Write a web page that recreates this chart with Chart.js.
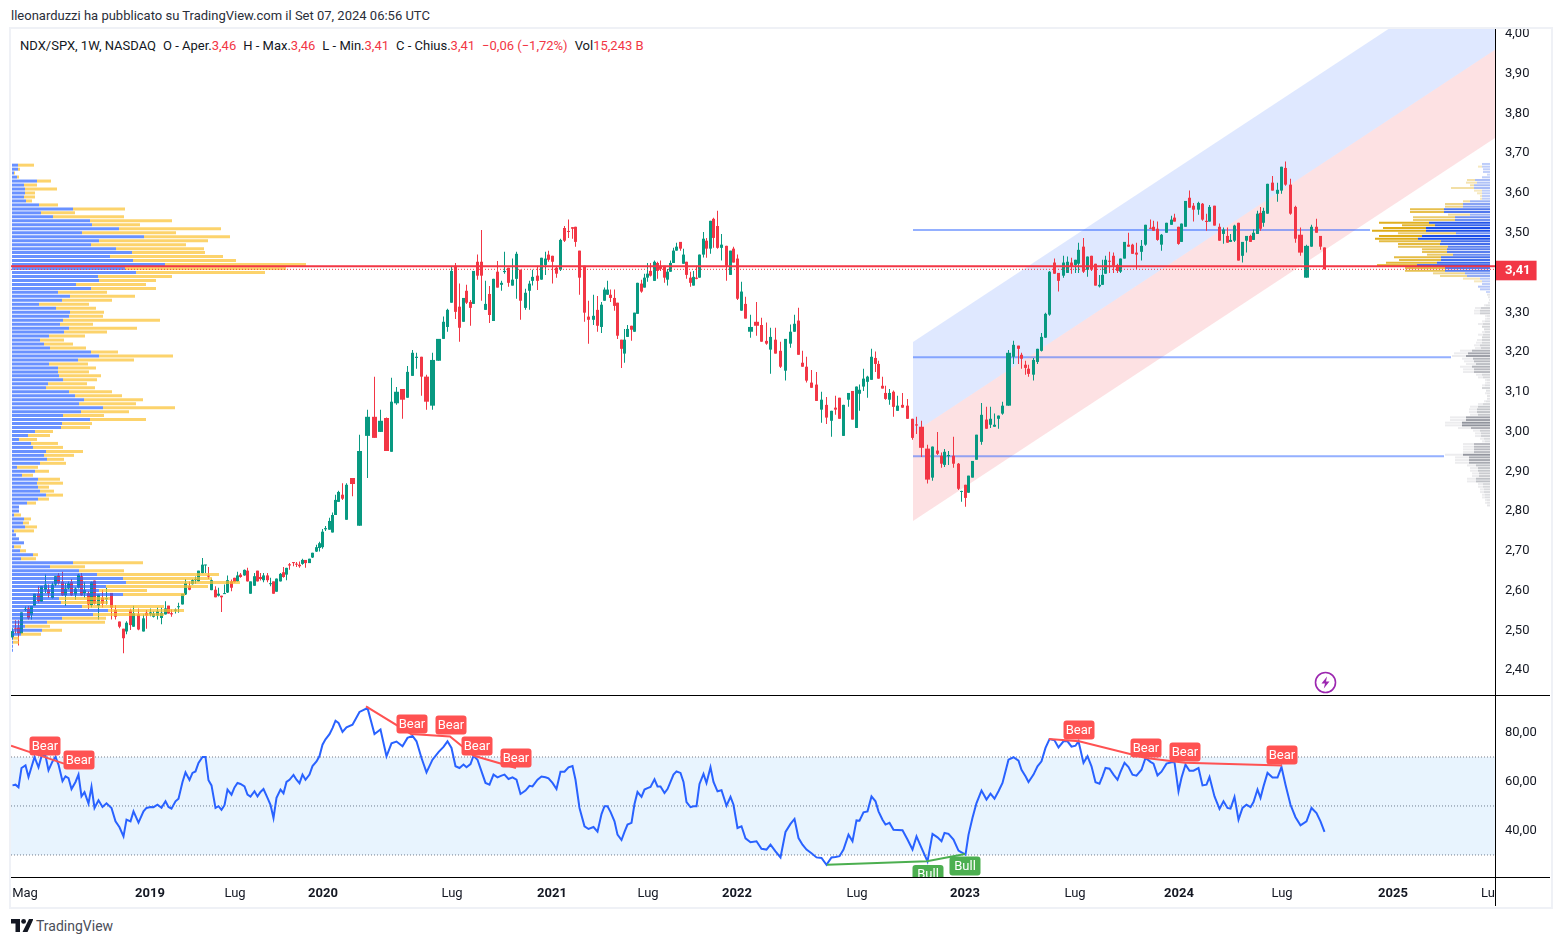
<!DOCTYPE html>
<html>
<head>
<meta charset="utf-8">
<title>NDX/SPX</title>
<script src="https://cdn.jsdelivr.net/npm/chart.js@4"></script>
<style>
  html, body { margin: 0; padding: 0; background: #fff; width: 1561px; height: 944px; overflow: hidden; }
  body { position: relative; font-family: Roboto, "Liberation Sans", sans-serif; color: #131722; }
  canvas { position: absolute; }
  #frame { position: absolute; left: 9px; top: 27px; width: 1540px; height: 878px; border: 2px solid #eff1f6; }
  #published { position: absolute; left: 11px; top: 9px; font-size: 13px; line-height: 14px; color: #2a2e39; white-space: nowrap; }
  #legend { position: absolute; left: 20px; top: 38px; font-size: 13px; line-height: 15px; white-space: nowrap; }
  #legend b { font-weight: 400; color: #f23645; }
  #legend span { margin-left: 7px; }
  .rule { position: absolute; background: #000; }
  #bolt { position: absolute; left: 1314px; top: 671px; }
  #logo { position: absolute; left: 11px; top: 919px; }
  #logoText { position: absolute; left: 36px; top: 918px; font-size: 14px; line-height: 16px; color: #4a4e59; }
</style>
</head>
<body>
<div id="frame"></div>
<div id="published">lleonarduzzi ha pubblicato su TradingView.com il Set 07, 2024 06:56 UTC</div>
<div id="legend">NDX/SPX, 1W, NASDAQ<span>O - Aper.<b>3,46</b></span><span>H - Max.<b>3,46</b></span><span>L - Min.<b>3,41</b></span><span>C - Chius.<b>3,41</b></span><span><b>−0,06 (−1,72%)</b></span><span>Vol<b>15,243 B</b></span></div>

<canvas id="priceChart" width="1539" height="666" style="left:11px;top:29px"></canvas>
<canvas id="rsiChart" width="1539" height="210" style="left:11px;top:696px"></canvas>

<div class="rule" style="left:11px;top:695px;width:1539px;height:1px"></div>
<div class="rule" style="left:11px;top:877px;width:1539px;height:1px"></div>
<div class="rule" style="left:1495px;top:29px;width:1px;height:877px"></div>

<svg id="bolt" width="23" height="23" viewBox="0 0 23 23">
  <circle cx="11.5" cy="11.5" r="10" fill="#fff" stroke="#9c27b0" stroke-width="1.6"/>
  <path d="M13 5.5 L7.5 12.5 H11 L9.8 17.5 L15.5 10.5 H12 Z" fill="#9c27b0"/>
</svg>
<svg id="logo" width="22" height="13" viewBox="0 0 22 13">
  <path d="M0 0H9V13H4.5V4.5H0Z M18 0H22.5L16.5 13H11.5Z" fill="#131722"/>
  <circle cx="12.6" cy="2.4" r="2.4" fill="#131722"/>
</svg>
<div id="logoText">TradingView</div>

<script>
// Bar widths follow volume (volume candles)
const vols = [
  3,3,3,4,3,3,3,4,3,4,3,4,3,3,4,3,3,3,4,3,3,3,4,3,3,4,4,4,5,4,4,4,3,4,3,5,5,3,4,3,4,4,4,3,3,4,3,4,3,4,3,3,3,4,3,3,3,4,3,3,3,3,4,3,3,3,4,3,3,4,3,3,3,4,3,3,3,4,3,3,3,4,3,3,3,3,4,3,4,3,3,
  3,4,3,3,3,4,4,6,7,8,7,6,6,5,5,6,5,5,4,5,5,6,6,5,4,4,4,4,4,3,4,3,4,4,4,4,4,4,4,3,4,4,4,4,5,4,3,5,4,4,3,4,4,4,4,4,4,3,4,5,4,5,4,4,3,3,3,4,3,4,3,3,
  4,3,3,4,3,3,3,4,3,3,4,3,3,3,3,4,3,3,4,3,3,3,4,3,4,3,4,4,5,4,3,4,4,4,5,6,5,5,4,5,5,5,5,4,4,4,4,5,5,5,5,5,4,4,4,5,4,4,3,4,4,4,4,3,4,3,4,4,4,5,5,5,4,5,6,5,5,
  4,3,4,5,5,3,4,3,4,4,5,5,4,4,4,4,6,5,5,3,4,3,5,4,4,4,4,5,4,5,4,4,4,3,5,4,4,4,4,3,3,4,4,4,
  3,4,4,4,4,5,4,5,3,4,4,5,5,3,4,3,4,4,4,5,4,4,3,5,5,4,4,3,4,4,4,4,4,3,4,3,3,4,5,5,4,4,5,5,5,6,5,5,4,4,3
];

// [open, high, low, close]
const candles2018 = [
  [2.477,2.5,2.472,2.493],[2.5,2.52,2.487,2.497],[2.502,2.52,2.457,2.487],[2.487,2.54,2.487,2.54],[2.546,2.555,2.543,2.549],
  [2.55,2.556,2.522,2.525],[2.534,2.556,2.522,2.556],[2.557,2.587,2.557,2.587],[2.587,2.606,2.564,2.568],[2.567,2.606,2.567,2.606],
  [2.597,2.635,2.589,2.61],[2.597,2.61,2.577,2.587],[2.576,2.615,2.575,2.61],[2.61,2.631,2.606,2.631],[2.633,2.639,2.61,2.614],
  [2.617,2.642,2.581,2.583],[2.583,2.614,2.556,2.6],[2.6,2.618,2.598,2.613],[2.616,2.624,2.581,2.583],[2.585,2.603,2.572,2.6],
  [2.602,2.637,2.6,2.635],[2.631,2.639,2.581,2.583],[2.588,2.616,2.577,2.596],[2.589,2.593,2.548,2.56],[2.558,2.618,2.552,2.616],
  [2.62,2.62,2.56,2.562],[2.556,2.585,2.522,2.585],[2.577,2.597,2.552,2.562],[2.573,2.602,2.56,2.576],[2.589,2.589,2.522,2.552],
  [2.546,2.558,2.522,2.529],[2.517,2.517,2.5,2.504],[2.499,2.499,2.437,2.475]
];
const candles2019 = [
  [2.492,2.518,2.485,2.514],[2.545,2.549,2.496,2.508],[2.504,2.557,2.504,2.538],[2.535,2.55,2.495,2.497],[2.492,2.535,2.492,2.525],
  [2.539,2.546,2.499,2.532],[2.535,2.55,2.53,2.54],[2.529,2.543,2.527,2.537],[2.532,2.552,2.522,2.543],[2.526,2.552,2.51,2.539],
  [2.535,2.568,2.535,2.55],[2.557,2.557,2.537,2.537],[2.538,2.547,2.529,2.535],[2.544,2.55,2.537,2.547],[2.553,2.564,2.539,2.555],
  [2.56,2.587,2.56,2.587],[2.585,2.624,2.584,2.614],[2.606,2.618,2.596,2.597],[2.611,2.624,2.61,2.621],[2.621,2.63,2.612,2.624],
  [2.618,2.645,2.617,2.645],[2.639,2.677,2.638,2.66],[2.658,2.66,2.639,2.659],[2.633,2.654,2.624,2.63],[2.596,2.625,2.596,2.621],
  [2.597,2.606,2.578,2.578],[2.582,2.602,2.58,2.587],[2.582,2.582,2.541,2.578],[2.586,2.61,2.586,2.588],[2.59,2.633,2.589,2.621],
  [2.618,2.623,2.593,2.602],[2.627,2.627,2.615,2.616],[2.618,2.642,2.617,2.633],[2.635,2.639,2.627,2.629],[2.633,2.648,2.632,2.647],
  [2.645,2.652,2.618,2.618],[2.587,2.618,2.587,2.618],[2.607,2.639,2.607,2.631],[2.645,2.645,2.618,2.618],[2.629,2.639,2.62,2.624],
  [2.621,2.639,2.616,2.633],[2.633,2.639,2.616,2.621],[2.611,2.627,2.606,2.613],[2.618,2.618,2.587,2.587],[2.592,2.625,2.592,2.625],
  [2.618,2.639,2.618,2.637],[2.641,2.654,2.627,2.629],[2.635,2.652,2.621,2.652],[2.661,2.664,2.647,2.658],[2.666,2.667,2.656,2.664],
  [2.662,2.667,2.654,2.66],[2.66,2.668,2.652,2.656],[2.662,2.675,2.66,2.672],[2.672,2.672,2.652,2.664],[2.664,2.675,2.664,2.675],
  [2.678,2.69,2.677,2.69],[2.693,2.71,2.692,2.704],[2.702,2.718,2.693,2.714],[2.704,2.75,2.7,2.743]
];
const candles2020 = [
  [2.749,2.757,2.745,2.752],[2.748,2.778,2.748,2.77],[2.741,2.791,2.741,2.785],[2.785,2.836,2.785,2.823],[2.818,2.846,2.818,2.843],
  [2.836,2.865,2.823,2.826],[2.773,2.865,2.773,2.861],[2.878,2.878,2.832,2.863],[2.758,2.987,2.758,2.946],[2.984,3.05,2.878,3.032],
  [3.032,3.133,2.979,2.979],[2.994,3.05,2.994,3.022],[3.029,3.03,2.946,2.946],[2.944,3.13,2.944,3.07],[3.066,3.107,3.062,3.095],
  [3.102,3.102,3.027,3.075],[3.08,3.16,3.08,3.145],[3.135,3.2,3.135,3.193],[3.18,3.193,3.153,3.183],[3.183,3.183,3.085,3.133],
  [3.133,3.138,3.05,3.07],[3.06,3.193,3.05,3.175],[3.173,3.228,3.173,3.228],[3.228,3.284,3.228,3.271],[3.258,3.304,3.246,3.301],
  [3.319,3.41,3.319,3.399],[3.412,3.419,3.278,3.296],[3.309,3.367,3.221,3.256],[3.271,3.331,3.271,3.331],[3.349,3.364,3.316,3.319],
  [3.321,3.326,3.261,3.306],[3.316,3.399,3.316,3.399],[3.422,3.44,3.377,3.387],[3.422,3.502,3.324,3.387],[3.301,3.374,3.301,3.316],
  [3.341,3.361,3.268,3.288],[3.273,3.379,3.273,3.379],[3.397,3.424,3.357,3.357],[3.364,3.374,3.349,3.369],[3.396,3.447,3.392,3.399],
  [3.407,3.407,3.359,3.369],[3.362,3.43,3.362,3.377],[3.379,3.447,3.329,3.442],[3.402,3.402,3.276,3.324],[3.306,3.354,3.301,3.344],
  [3.349,3.374,3.301,3.367],[3.374,3.402,3.362,3.384],[3.387,3.412,3.351,3.374],[3.377,3.432,3.377,3.432],[3.414,3.447,3.389,3.43],
  [3.44,3.45,3.422,3.427],[3.437,3.437,3.367,3.422],[3.407,3.412,3.382,3.392],[3.402,3.48,3.399,3.477],[3.507,3.512,3.472,3.475],
  [3.499,3.528,3.482,3.497],[3.509,3.509,3.48,3.505],[3.51,3.51,3.46,3.472],[3.45,3.45,3.339,3.382],[3.412,3.412,3.271,3.294],
  [3.284,3.324,3.216,3.276],[3.276,3.339,3.263,3.286],[3.301,3.336,3.246,3.261],[3.258,3.321,3.243,3.314],[3.324,3.357,3.324,3.352],
  [3.339,3.374,3.339,3.352],[3.339,3.352,3.321,3.331],[3.331,3.352,3.299,3.311],[3.319,3.319,3.228,3.236],[3.226,3.226,3.155,3.203],
  [3.191,3.253,3.168,3.226],[3.233,3.263,3.233,3.253]
];
const candles2021 = [
  [3.261,3.261,3.223,3.251],[3.246,3.294,3.246,3.294],[3.291,3.369,3.291,3.369],[3.367,3.377,3.344,3.347],[3.357,3.392,3.357,3.382],
  [3.382,3.419,3.372,3.392],[3.399,3.419,3.385,3.387],[3.374,3.425,3.374,3.422],[3.419,3.422,3.379,3.399],[3.412,3.425,3.399,3.404],
  [3.412,3.412,3.369,3.382],[3.377,3.404,3.362,3.397],[3.397,3.425,3.397,3.419],[3.419,3.457,3.419,3.45],[3.45,3.47,3.45,3.46],
  [3.472,3.472,3.45,3.455],[3.417,3.455,3.417,3.44],[3.422,3.422,3.379,3.389],[3.382,3.397,3.359,3.369],[3.362,3.399,3.362,3.384],
  [3.382,3.412,3.378,3.379],[3.382,3.44,3.382,3.44],[3.44,3.497,3.433,3.48],[3.475,3.482,3.432,3.455],[3.455,3.525,3.442,3.525],
  [3.53,3.533,3.457,3.482],[3.512,3.55,3.455,3.457],[3.457,3.492,3.425,3.465],[3.462,3.462,3.374,3.412],[3.389,3.45,3.389,3.45],
  [3.455,3.46,3.42,3.42],[3.43,3.44,3.326,3.329],[3.299,3.372,3.299,3.347],[3.316,3.334,3.279,3.279]
];
const candles2022 = [
  [3.246,3.289,3.231,3.258],[3.271,3.321,3.236,3.261],[3.263,3.281,3.221,3.221],[3.223,3.269,3.213,3.216],[3.201,3.256,3.14,3.233],
  [3.226,3.256,3.191,3.191],[3.198,3.221,3.155,3.158],[3.148,3.228,3.123,3.228],[3.216,3.264,3.206,3.246],[3.246,3.289,3.246,3.266],
  [3.274,3.306,3.188,3.188],[3.168,3.198,3.158,3.158],[3.158,3.183,3.118,3.123],[3.118,3.15,3.105,3.105],[3.113,3.145,3.072,3.072],
  [3.05,3.095,3.017,3.075],[3.062,3.082,3.014,3.03],[3.022,3.047,2.982,3.047],[3.055,3.085,3.037,3.05],[3.08,3.08,3.027,3.027],
  [2.984,3.062,2.984,3.062],[3.075,3.092,3.057,3.092],[3.097,3.097,3.025,3.025],[3.004,3.108,3.004,3.108],[3.09,3.113,3.047,3.1],
  [3.108,3.153,3.097,3.128],[3.12,3.135,3.08,3.133],[3.125,3.203,3.125,3.183],[3.18,3.196,3.145,3.165],[3.165,3.173,3.128,3.128],
  [3.11,3.133,3.103,3.103],[3.092,3.11,3.075,3.077],[3.075,3.102,3.062,3.092],[3.095,3.098,3.032,3.057],[3.047,3.085,3.047,3.06],
  [3.062,3.092,3.055,3.055],[3.06,3.077,3.027,3.027],[3.027,3.027,2.974,2.979],[3.013,3.032,2.989,3.01],[3.007,3.022,2.931,2.954],
  [2.952,2.962,2.864,2.874],[2.879,2.957,2.871,2.957],[2.947,2.994,2.936,2.939]
];
const candles2023 = [
  [2.934,2.942,2.904,2.914],[2.911,2.951,2.906,2.944],[2.933,2.946,2.911,2.936],[2.934,2.982,2.904,2.914],[2.914,2.916,2.848,2.851],
  [2.843,2.846,2.818,2.845],[2.861,2.861,2.806,2.828],[2.841,2.884,2.841,2.884],[2.879,2.921,2.879,2.921],[2.924,2.987,2.924,2.987],
  [2.969,3.067,2.962,3.037],[3.025,3.057,3.002,3.002],[3.012,3.057,3.004,3.027],[3.007,3.04,3.007,3.012],[3.027,3.035,3.002,3.035],
  [3.04,3.07,3.037,3.06],[3.06,3.2,3.06,3.193],[3.183,3.223,3.165,3.213],[3.211,3.211,3.165,3.203],[3.188,3.193,3.153,3.178],
  [3.163,3.173,3.138,3.155],[3.153,3.163,3.133,3.14],[3.138,3.18,3.123,3.175],[3.17,3.203,3.165,3.203],[3.198,3.243,3.196,3.233],
  [3.231,3.294,3.231,3.291],[3.289,3.399,3.286,3.397],[3.42,3.43,3.392,3.392],[3.394,3.394,3.347,3.374],[3.387,3.437,3.382,3.42],
  [3.394,3.435,3.394,3.422],[3.42,3.432,3.392,3.409],[3.414,3.427,3.394,3.427],[3.417,3.47,3.394,3.452],[3.46,3.482,3.394,3.397],
  [3.402,3.435,3.384,3.435],[3.437,3.437,3.399,3.402],[3.417,3.417,3.362,3.362],[3.36,3.389,3.357,3.364],[3.364,3.427,3.364,3.389],
  [3.392,3.437,3.392,3.427],[3.424,3.447,3.394,3.422],[3.437,3.445,3.394,3.412],[3.414,3.417,3.394,3.399]
];
const candles2024 = [
  [3.397,3.43,3.394,3.43],[3.43,3.472,3.43,3.472],[3.465,3.495,3.46,3.46],[3.465,3.467,3.442,3.442],[3.445,3.47,3.404,3.44],
  [3.447,3.477,3.425,3.462],[3.465,3.515,3.462,3.515],[3.507,3.528,3.505,3.505],[3.51,3.525,3.5,3.5],[3.505,3.523,3.475,3.477],
  [3.465,3.492,3.45,3.49],[3.495,3.52,3.495,3.52],[3.515,3.538,3.515,3.528],[3.533,3.543,3.523,3.523],[3.51,3.51,3.465,3.467],
  [3.472,3.518,3.472,3.518],[3.51,3.575,3.51,3.575],[3.583,3.601,3.558,3.558],[3.563,3.57,3.523,3.553],[3.553,3.573,3.54,3.57],
  [3.568,3.57,3.525,3.528],[3.525,3.543,3.5,3.522],[3.523,3.565,3.523,3.56],[3.563,3.563,3.513,3.513],[3.51,3.518,3.475,3.475],
  [3.492,3.508,3.467,3.503],[3.487,3.508,3.47,3.47],[3.472,3.492,3.472,3.477],[3.475,3.515,3.472,3.513],[3.52,3.52,3.425,3.425],
  [3.437,3.472,3.42,3.472],[3.475,3.487,3.445,3.487],[3.487,3.49,3.472,3.472],[3.477,3.503,3.477,3.495],[3.492,3.55,3.492,3.543],
  [3.545,3.56,3.5,3.505],[3.52,3.558,3.51,3.55],[3.543,3.618,3.543,3.618],[3.621,3.638,3.601,3.601],[3.593,3.621,3.573,3.603],
  [3.601,3.661,3.593,3.661],[3.658,3.674,3.613,3.616],[3.616,3.631,3.54,3.543],[3.56,3.563,3.47,3.48],[3.49,3.508,3.437,3.445],
  [3.382,3.465,3.382,3.462],[3.46,3.515,3.46,3.51],[3.51,3.53,3.495,3.495],[3.487,3.487,3.452,3.46],[3.458,3.458,3.403,3.403]
];

// RSI, one value per candle
const rsiValues = [
  58.4,58.7,57.6,65.5,66.6,61.8,65.9,70,65.8,70.3,70.5,64.6,68.2,70,66.9,60.1,62.1,61.4,56.9,59.8,62.8,53.9,55.6,51,57.8,49.2,52.3,49.6,51.1,49.2,
  43.7,41.3,37.6,44.4,43.7,47.8,43.2,47.8,49.2,49.6,49.5,50.5,49.3,51.9,49.6,48.9,51.9,53,59.8,63.7,60.6,63.5,64.1,67.6,70,70,60.5,58.4,49.2,49.9,
  48.4,50.3,56.7,54.6,57.6,59.4,59,58,54.6,53.8,56,53.9,55.7,56.9,53.3,50.5,45.1,53.3,56.7,55.2,59.8,60.7,62.7,60.7,59.3,62.8,60.7,62.8,66.3,68.2,70.4,75,
  77.2,79.3,81.8,84.8,83.9,80.2,82.1,83.2,88.4,90,79.4,81.2,70.3,75.6,76.3,74.4,77.8,78.6,76.4,69.6,63.7,68.9,72,74.1,76.4,73.7,66.2,65.5,66.9,65.8,
  67.1,70.5,68.9,64.1,59.4,58.7,62.8,61.7,62.4,62.8,61,61.7,60.7,54.9,56.3,58.2,58,60.7,
  62,61.7,61.3,59.4,56.9,64,64,65.8,66.3,60.7,49.2,41.7,40.6,41.4,39.5,46.7,49.9,49.9,47.6,43.7,38.3,36.1,39.4,42.4,
  43.1,50.8,55.7,53.7,56.7,57.3,57.8,60.9,58,58,55.3,56.9,59.8,62.8,64.1,63.5,59.8,51.6,49.5,49.9,49.9,59,63.1,59.4,65.8,59.8,56,56.4,50.1,53.7,50.5,41,41.7,36.8,
  35.2,35.6,32.5,32.2,34.2,31.5,29,39.4,42.7,44.7,36.9,34.2,32.2,30.7,29,28.8,26,29,29.2,29.5,32.2,38.3,35.6,44.1,44,47.4,47.8,53.9,51.9,47.8,44.4,42.4,43.1,40.3,40.2,40.1,36.3,32.2,37.6,32.9,27.4,38.6,37.2,
  35.6,39,38.6,36.3,31.8,31.1,30.1,38.2,45.2,
  51.2,56.3,52.6,55,53,56,59.4,68.9,69.9,68.5,64.8,62.1,59.8,62.8,66.2,68.2,73.7,77.3,76.8,73.9,76.4,76.4,74.2,74.6,76.4,67.6,70.3,66.2,59.7,59.1,62.1,65.5,65.2,62.8,60.7,
  63.9,67.6,65.9,62.8,62.4,64.8,69.6,68,67.3,62.5,64,67.3,67.8,67.8,56,61.5,66.9,64.4,64.4,65.5,58.4,58.7,61.8,53.9,48.8,51.9,49.2,48.9,53.7,44.4,49.2,50.5,49.5,51.6,56.7,53.3,58,63.5,61.6,61.6,65.9,58.7,50.5,45.4,42.1,43.7,49.2,47.1,43.7,39.4
];

// Left volume profile, one row per 0.01 of price from the top row down
const vpLeftUp = [
  6,6,2,5,25,12,13,13,12,14,27,61,29,41,78,80,107,70,132,87,79,104,120,98,121,153,113,124,86,87,64,79,46,58,50,27,44,58,57,51,48,57,52,37,28,32,38,79,87,66,
  37,46,46,47,51,36,34,57,63,72,67,91,69,51,78,50,49,23,16,7,19,21,34,32,35,28,5,23,10,26,25,26,28,34,26,15,7,7,2,12,11,13,2,4,7,12,2,8,21,9,
  61,38,67,85,111,114,94,87,111,47,49,70,96,81,50,35,13,30,9,1,1,1,1
];
const vpLeftDown = [
  16,2,1,2,14,13,32,10,11,6,19,52,34,71,82,48,102,94,86,109,95,88,73,113,103,141,161,129,74,57,70,65,49,65,50,50,40,34,34,97,33,68,43,36,24,29,36,27,74,56,
  39,38,31,42,34,39,49,43,47,59,57,72,48,41,56,30,29,18,22,18,27,30,37,30,17,26,21,14,11,22,26,11,14,17,11,9,0,0,7,7,6,12,20,0,0,0,7,6,5,15,
  70,35,45,122,89,114,102,48,62,51,47,82,76,71,44,58,25,20,20,6,6,0,0
];
const vpLeftTop = 3.665;
const vpLeftStep = 0.01;

// Right volume profile (fixed range, colored inside the visible range, grey below it)
const vpRightUp = [
  8,8,7,7,3,8,15,13,16,16,8,8,8,8,20,27,27,46,46,20,35,35,61,55,64,64,34,68,72,49,50,42,43,43,37,49,49,53,73,45,45,25,23,10,8,8,12,10,4,
  3,2,1,2,4,9,10,10,3,3,5,7,8,6,5,7,8,8,8,10,9,18,22,24,17,16,14,18,16,16,8,7,3,3,5,8,4,3,3,3,4,7,12,13,13,12,24,24,28,28,19,10,9,9,6,5,16,16,16,16,27,21,21,21,14,12,12,11,11,14,14,7,7,6,6,5,5,3,3,3
];
const vpRightDown = [
  0,4,0,0,0,0,8,11,4,23,8,5,2,2,7,18,18,34,34,22,42,42,50,33,43,54,58,43,43,62,42,50,25,25,26,47,42,51,40,40,40,32,27,17,8,0,0,0,0,
  0,0,0,0,2,6,6,6,2,2,3,5,0,0,3,5,0,5,6,6,6,12,14,14,11,10,10,12,11,11,6,5,2,2,3,0,0,2,0,0,2,5,8,8,8,8,16,16,17,17,13,7,6,6,4,3,11,11,11,11,18,14,14,14,9,8,8,7,7,9,9,5,5,4,4,3,3,2,2,0
];
const vpRightTop = 3.668;
const vpRightStep = 0.00671;
const vpRightColored = 49;

// Axis ticks
const lastPriceTick = 3.405;
const priceTicks = [2.4,2.5,2.6,2.7,2.8,2.9,3.0,3.1,3.2,3.3,lastPriceTick,3.5,3.6,3.7,3.8,3.9,4.0];
const rsiTicks = [40,60,80];
const timeTickPos = [14,139,224,312,441,541,637,726,846,954,1064,1168,1271,1382,1477];
const timeTickLabels = ["Mag","2019","Lug","2020","Lug","2021","Lug","2022","Lug","2023","Lug","2024","Lug","2025","Lu"];

// Drawn levels and channel, [position on the time axis, price]
const channelUpper = [[902,3.22],[1484,4.184]];
const channelMiddle = [[902,2.991],[1484,3.955]];
const channelLower = [[902,2.77],[1484,3.733]];
const hLevels = [[3.502,902,1359],[3.182,902,1440],[2.933,902,1433]];
const lastPrice = 3.411;
const closePrice = 3.403;

// RSI divergences and their labels
const bearLines = [
  [[0,74.6],[53,67.3]],
  [[355,90.7],[400,79.4],[439,78.4],[463,70.5],[505,65.5]],
  [[1038,77.3],[1068,76.4],[1135,69.6],[1174,67.6],[1271,66.5]]
];
const bullLine = [[816,26],[916,27.4],[954,30.4]];
const bearLabels = [[34,74.5],[68,68.8],[401,83.5],[440,83.1],[466,74.5],[505,69.6],[1068,81],[1135,73.7],[1174,72],[1271,70.8]];
const bullLabels = [[917,22],[954,25.5]];

const upColor = "#089981";
const downColor = "#f23645";
const fontFamily = "Roboto, 'Liberation Sans', sans-serif";

const candles = [...candles2018, ...candles2019, ...candles2020, ...candles2021, ...candles2022, ...candles2023, ...candles2024];

// time axis position of every candle
const xs = [];
vols.forEach((v, i) => xs.push(i === 0 ? 1.5 : xs[i - 1] + vols[i - 1]));

function bodyThickness(i) {
  const prev = i > 0 ? vols[i - 1] : vols[i];
  return prev + vols[i] >= 11 ? 5 : 3;
}

function toPoints(pairs) {
  return pairs.map((p) => ({ x: p[0], y: p[1] }));
}

function lineSet(points, color, width, extra) {
  return Object.assign({
    type: "line",
    data: points,
    borderColor: color,
    borderWidth: width,
    pointRadius: 0,
    fill: false,
    tension: 0,
    order: 1,
  }, extra || {});
}

// candles: wicks and bodies as floating bars
const candleSets = [];
[upColor, downColor].forEach((color) => {
  const isUp = color === upColor;
  const own = candles.map((c, i) => ({ c, i })).filter((d) => (d.c[3] >= d.c[0]) === isUp);
  candleSets.push({
    type: "bar",
    data: own.map((d) => ({ x: xs[d.i], y: [d.c[2], d.c[1]] })),
    backgroundColor: color,
    barThickness: 1,
    grouped: false,
    inflateAmount: 0,
    order: 6,
  });
  [3, 5].forEach((w) => {
    candleSets.push({
      type: "bar",
      data: own.filter((d) => bodyThickness(d.i) === w).map((d) => ({ x: xs[d.i], y: [d.c[0], d.c[3]] })),
      backgroundColor: color,
      barThickness: w,
      minBarLength: 1,
      grouped: false,
      inflateAmount: 0,
      order: 5,
    });
  });
});

// volume profiles as horizontal floating bars on their own hidden axis
function vpSet(data, color, thickness) {
  return {
    type: "bar",
    indexAxis: "y",
    xAxisID: "vp",
    data: data,
    backgroundColor: color,
    barThickness: thickness,
    grouped: false,
    inflateAmount: 0,
    order: 3,
  };
}

const vpLeftBlue = vpLeftUp.map((v, i) => ({ y: vpLeftTop - i * vpLeftStep, x: [0, v] }));
const vpLeftYellow = vpLeftDown.map((v, i) => ({ y: vpLeftTop - i * vpLeftStep, x: [vpLeftUp[i], vpLeftUp[i] + v] }));

const vpRightEdge = 1478;
const vpRightA = vpRightUp.map((v, i) => ({ y: vpRightTop - i * vpRightStep, x: [vpRightEdge - v, vpRightEdge] }));
const vpRightB = vpRightDown.map((v, i) => ({ y: vpRightTop - i * vpRightStep, x: [vpRightEdge - vpRightUp[i] - v, vpRightEdge - vpRightUp[i]] }));

function rightAlpha(i) {
  const a = 0.18 + 0.82 * vpRightUp[i] / 64;
  return Math.min(a, 1);
}

const priceChart = new Chart(document.getElementById("priceChart"), {
  data: {
    datasets: [
      lineSet(toPoints(channelUpper), "rgba(0,0,0,0)", 0, { fill: "+1", backgroundColor: "rgba(41,98,255,0.15)", order: 10 }),
      lineSet(toPoints(channelMiddle), "rgba(0,0,0,0)", 0, { fill: "+1", backgroundColor: "rgba(242,54,69,0.15)", order: 10 }),
      lineSet(toPoints(channelLower), "rgba(0,0,0,0)", 0, { order: 10 }),
      ...hLevels.map((l) => lineSet([{ x: l[1], y: l[0] }, { x: l[2], y: l[0] }], "rgba(41,98,255,0.5)", 2, { order: 8 })),
      ...candleSets,
      vpSet(vpLeftBlue, "rgba(41,98,255,0.7)", 3),
      vpSet(vpLeftYellow, "rgba(251,192,45,0.7)", 3),
      vpSet(vpRightA, (ctx) => ctx.dataIndex < vpRightColored
        ? "rgba(26,78,232," + rightAlpha(ctx.dataIndex) + ")"
        : "rgba(120,123,134," + (0.12 + vpRightUp[ctx.dataIndex] / 40) + ")", 2),
      vpSet(vpRightB, (ctx) => ctx.dataIndex < vpRightColored
        ? "rgba(222,172,24," + rightAlpha(ctx.dataIndex) + ")"
        : "rgba(120,123,134,0.14)", 2),
      lineSet([{ x: 0, y: lastPrice }, { x: 1484, y: lastPrice }], downColor, 2, { order: 1 }),
      lineSet([{ x: 0, y: closePrice }, { x: 1484, y: closePrice }], downColor, 1, { borderDash: [1, 2], order: 1 }),
    ],
  },
  options: {
    responsive: false,
    animation: false,
    layout: { padding: 0 },
    plugins: { legend: { display: false }, tooltip: { enabled: false } },
    scales: {
      x: { type: "linear", display: false, min: 0, max: 1484, offset: false },
      vp: { type: "linear", axis: "x", display: false, min: -1, max: 1483, offset: false },
      y: {
        type: "linear",
        position: "right",
        min: 2.3322,
        max: 4.0075,
        offset: false,
        grid: { display: false, drawTicks: false, offset: false },
        border: { display: false },
        afterBuildTicks: (s) => { s.ticks = priceTicks.map((v) => ({ value: v })); },
        afterFit: (s) => { s.width = 55; s.paddingTop = 0; s.paddingBottom = 0; },
        ticks: {
          padding: 10,
          labelOffset: 2,
          autoSkip: false,
          callback: (v) => (v === lastPriceTick ? "3,41" : v.toFixed(2).replace(".", ",")),
          color: (ctx) => (ctx.tick && ctx.tick.value === lastPriceTick ? "#fff" : "#131722"),
          font: (ctx) => ({ family: fontFamily, size: 13, weight: ctx.tick && ctx.tick.value === lastPriceTick ? "bold" : "normal" }),
          showLabelBackdrop: (ctx) => !!ctx.tick && ctx.tick.value === lastPriceTick,
          backdropColor: downColor,
          backdropPadding: { left: 9, right: 6, top: 2, bottom: 2 },
        },
      },
    },
  },
});

// Bear / Bull boxes on the RSI pane
const divergenceLabels = {
  id: "divergenceLabels",
  afterDatasetsDraw(chart) {
    const { ctx, scales, chartArea } = chart;
    const draw = (pos, text, color) => {
      const px = scales.x.getPixelForValue(pos[0]);
      const py = scales.y.getPixelForValue(pos[1]);
      ctx.fillStyle = color;
      ctx.beginPath();
      ctx.roundRect(px - 15.5, py - 9.5, 31, 19, 3);
      ctx.fill();
      ctx.fillStyle = "#fff";
      ctx.font = "13px " + fontFamily;
      ctx.textAlign = "center";
      ctx.textBaseline = "middle";
      ctx.fillText(text, px, py + 0.5);
    };
    ctx.save();
    ctx.beginPath();
    ctx.rect(chartArea.left, chartArea.top, chartArea.width, chartArea.height);
    ctx.clip();
    bearLabels.forEach((p) => draw(p, "Bear", "#ff5252"));
    bullLabels.forEach((p) => draw(p, "Bull", "#4caf50"));
    ctx.restore();
  },
};

const rsiChart = new Chart(document.getElementById("rsiChart"), {
  data: {
    datasets: [
      lineSet(toPoints([[0,70],[1484,70]]), "#787b86", 1, { borderDash: [1, 2], fill: "+2", backgroundColor: "rgba(33,150,243,0.1)", order: 9 }),
      lineSet(toPoints([[0,50],[1484,50]]), "#787b86", 1, { borderDash: [1, 2], order: 9 }),
      lineSet(toPoints([[0,30],[1484,30]]), "#787b86", 1, { borderDash: [1, 2], order: 9 }),
      lineSet(rsiValues.map((v, i) => ({ x: xs[i], y: v })), "#2962ff", 2, { order: 3 }),
      ...bearLines.map((l) => lineSet(toPoints(l), "#ff5252", 2, { order: 2 })),
      lineSet(toPoints(bullLine), "#4caf50", 2, { order: 2 }),
    ],
  },
  options: {
    responsive: false,
    animation: false,
    layout: { padding: 0 },
    plugins: { legend: { display: false }, tooltip: { enabled: false } },
    scales: {
      x: {
        type: "linear",
        min: 0,
        max: 1484,
        grid: { display: false, drawTicks: false },
        border: { display: false },
        afterBuildTicks: (s) => { s.ticks = timeTickPos.map((v) => ({ value: v })); },
        afterFit: (s) => { s.height = 29; s.paddingLeft = 0; s.paddingRight = 0; },
        ticks: {
          padding: 9,
          autoSkip: false,
          maxRotation: 0,
          callback: (v) => timeTickLabels[timeTickPos.indexOf(v)],
          color: "#131722",
          font: (ctx) => ({
            family: fontFamily,
            size: 13,
            weight: ctx.tick && /^\d/.test(timeTickLabels[timeTickPos.indexOf(ctx.tick.value)] || "") ? "bold" : "normal",
          }),
        },
      },
      y: {
        type: "linear",
        position: "right",
        min: 21,
        max: 94.9,
        grid: { display: false, drawTicks: false },
        border: { display: false },
        afterBuildTicks: (s) => { s.ticks = rsiTicks.map((v) => ({ value: v })); },
        afterFit: (s) => { s.width = 55; s.paddingTop = 0; s.paddingBottom = 0; },
        ticks: {
          padding: 10,
          callback: (v) => v.toFixed(2).replace(".", ","),
          color: "#131722",
          font: { family: fontFamily, size: 13 },
        },
      },
    },
  },
  plugins: [divergenceLabels],
});
</script>
</body>
</html>
